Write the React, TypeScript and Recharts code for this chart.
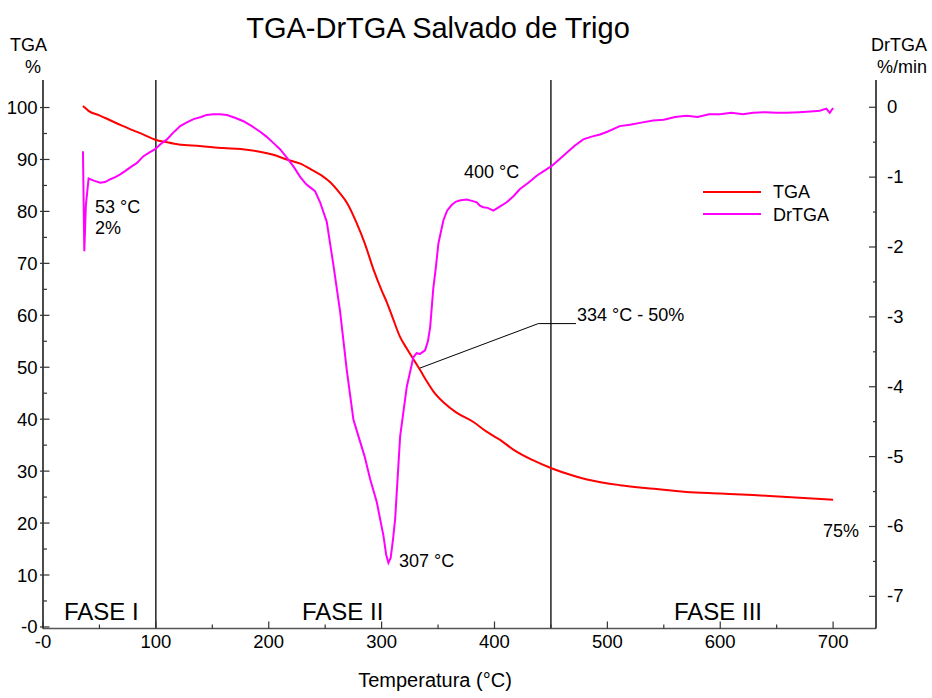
import React from "react";
import { LineChart, Line, XAxis, YAxis, ReferenceLine } from "recharts";

const FONT = '"Liberation Sans", Arial, sans-serif';

// TGA curve (%), left axis
const tgaTemp = [
  35.4, 37, 40, 50, 60, 70, 80, 90, 99.4, 110, 120, 139, 160, 175, 192, 204,
  216, 228, 239, 247, 254, 263, 270, 278, 285, 293, 300, 305, 310, 316, 322,
  328, 334, 340, 346, 355, 366, 381, 393, 405, 417, 434, 451, 470, 482, 511,
  541, 570, 600, 629, 659, 700,
];
const tgaPct = [
  100.3, 100.0, 99.4, 98.5, 97.5, 96.5, 95.6, 94.7, 93.8, 93.3, 92.9, 92.6,
  92.2, 92.0, 91.5, 90.9, 90.0, 89.2, 87.9, 86.9, 85.7, 83.5, 81.4, 77.7, 73.9,
  68.7, 64.8, 62.3, 59.4, 56.0, 53.7, 51.6, 49.5, 47.3, 45.3, 43.2, 41.3, 39.5,
  37.6, 36.0, 34.1, 32.1, 30.5, 29.1, 28.4, 27.3, 26.6, 26.0, 25.7, 25.4, 25.0,
  24.5,
];

// DrTGA curve (%/min), right axis
const drTemp = [
  35.4, 36.6, 38, 40.4, 45, 50.7, 55, 59.6, 64, 68.4, 73, 77.3, 83, 89, 94,
  99.4, 104, 109.8, 115, 121.6, 127, 133.4, 140, 145, 151, 157, 163, 170, 177.6,
  185, 192.4, 198, 204, 210, 216, 222, 228, 233, 237, 241, 245.5, 251.4, 257.3,
  263.2, 269.2, 275, 279.5, 285, 289.8, 295.7, 301.6, 304, 306, 308, 310, 312,
  316.4, 322.3, 328.1, 331, 334, 338.5, 341, 343, 345.8, 348, 350.3, 354.7, 358,
  362, 366, 370, 375.4, 380, 384.3, 387, 390, 394, 399, 405, 410.8, 417, 422.6,
  430, 437.4, 444, 450.7, 457, 464, 471, 478.7, 486, 493.5, 500, 511, 520, 530,
  540.6, 550, 560, 570, 580, 590, 599.7, 610, 620, 629.2, 640, 650, 658.8, 670,
  680, 688.2, 694, 697, 700,
];
const drRate = [
  -0.63, -2.06, -1.4, -1.02, -1.05, -1.08, -1.07, -1.03, -1.0, -0.96, -0.91,
  -0.86, -0.8, -0.7, -0.65, -0.6, -0.53, -0.46, -0.37, -0.27, -0.22, -0.17,
  -0.14, -0.11, -0.1, -0.1, -0.11, -0.15, -0.2, -0.27, -0.35, -0.42, -0.51,
  -0.6, -0.72, -0.85, -1.0, -1.1, -1.15, -1.2, -1.36, -1.64, -2.26, -2.92,
  -3.77, -4.47, -4.71, -5.0, -5.32, -5.65, -6.13, -6.4, -6.52, -6.45, -6.2,
  -5.89, -4.71, -4.0, -3.58, -3.52, -3.53, -3.48, -3.35, -3.15, -2.59, -2.3,
  -1.95, -1.62, -1.48, -1.4, -1.35, -1.33, -1.32, -1.34, -1.36, -1.41, -1.43,
  -1.44, -1.48, -1.42, -1.36, -1.27, -1.17, -1.08, -0.98, -0.91, -0.84, -0.75,
  -0.65, -0.55, -0.46, -0.42, -0.39, -0.35, -0.27, -0.25, -0.22, -0.19, -0.18,
  -0.14, -0.12, -0.14, -0.1, -0.1, -0.08, -0.1, -0.08, -0.07, -0.08, -0.08,
  -0.07, -0.06, -0.05, -0.02, -0.08, -0.01,
];

const xTicks = [0, 50, 100, 150, 200, 250, 300, 350, 400, 450, 500, 550, 600, 650, 700];
const leftTicks = [0, 5, 10, 15, 20, 25, 30, 35, 40, 45, 50, 55, 60, 65, 70, 75, 80, 85, 90, 95, 100];
const rightTicks = [0, -0.5, -1, -1.5, -2, -2.5, -3, -3.5, -4, -4.5, -5, -5.5, -6, -6.5, -7];

const phaseBounds = [100, 450];

const tgaData = tgaTemp.map((t, i) => ({ t, v: tgaPct[i] }));
const drData = drTemp.map((t, i) => ({ t, v: drRate[i] }));

const AX = "#333";

const BottomTick = ({ x, y, payload }: any) => {
  const v = payload.value;
  const major = v % 100 === 0;
  return (
    <g>
      <line x1={x} x2={x} y1={y} y2={y - (major ? 7 : 4)} stroke={AX} strokeWidth={1.2} />
      {major && (
        <text x={x} y={y + 19} textAnchor="middle" fontSize={18.5} fontFamily={FONT} fill="#000">
          {v === 0 ? "-0" : v}
        </text>
      )}
    </g>
  );
};

const LeftTick = ({ x, y, payload }: any) => {
  const v = payload.value;
  const major = v % 10 === 0;
  return (
    <g>
      <line x1={major ? x - 3 : x} x2={x + (major ? 6.5 : 4)} y1={y} y2={y} stroke={AX} strokeWidth={1.2} />
      {major && (
        <text x={x - 5.5} y={y + 6.5} textAnchor="end" fontSize={18.5} fontFamily={FONT} fill="#000">
          {v === 0 ? "-0" : v}
        </text>
      )}
    </g>
  );
};

const RightTick = ({ x, y, payload }: any) => {
  const v = payload.value;
  const major = Number.isInteger(v);
  return (
    <g>
      <line x1={x - (major ? 7 : 3)} x2={x} y1={y} y2={y} stroke={AX} strokeWidth={1.2} />
      {major && (
        <text x={x + 11} y={y + 6} textAnchor="start" fontSize={18.5} fontFamily={FONT} fill="#000">
          {v === 0 ? "0" : v}
        </text>
      )}
    </g>
  );
};

const txt = { fontFamily: FONT, fontSize: 18, fill: "#000" } as const;

export default function App() {
  return (
    <div style={{ position: "absolute", left: 0, top: 0, width: 932, height: 698, background: "#fff" }}>
      <LineChart
        width={932}
        height={698}
        margin={{ top: 80, right: 6, bottom: 29.5, left: 1 }}
      >
        <XAxis
          xAxisId="top"
          orientation="top"
          type="number"
          dataKey="t"
          domain={[0, 738]}
          allowDataOverflow
          height={0}
          tick={false}
          tickLine={false}
          axisLine={{ stroke: "#777", strokeWidth: 1.5 }}
        />
        <XAxis
          type="number"
          dataKey="t"
          domain={[0, 738]}
          allowDataOverflow
          ticks={xTicks}
          interval={0}
          height={40}
          tickSize={0}
          tickMargin={0}
          tickLine={false}
          tick={<BottomTick />}
          axisLine={{ stroke: "#555", strokeWidth: 1.5 }}
        />
        <YAxis
          yAxisId="left"
          type="number"
          domain={[-0.3, 105.3]}
          allowDataOverflow
          ticks={leftTicks}
          interval={0}
          width={42}
          tickSize={0}
          tickMargin={0}
          tickLine={false}
          tick={<LeftTick />}
          axisLine={{ stroke: "#111", strokeWidth: 1.5 }}
        />
        <YAxis
          yAxisId="right"
          orientation="right"
          type="number"
          domain={[-7.46, 0.39]}
          allowDataOverflow
          ticks={rightTicks}
          interval={0}
          width={50}
          tickSize={0}
          tickMargin={0}
          tickLine={false}
          tick={<RightTick />}
          axisLine={{ stroke: "#111", strokeWidth: 1.5 }}
        />
        {phaseBounds.map((b) => (
          <ReferenceLine key={b} x={b} yAxisId="left" stroke="#000" strokeWidth={1.3} />
        ))}
        <ReferenceLine
          yAxisId="left"
          segment={[{ x: 333.5, y: 49.8 }, { x: 438.8, y: 58.4 }]}
          stroke="#000"
          strokeWidth={1}
        />
        <ReferenceLine
          yAxisId="left"
          segment={[{ x: 438.8, y: 58.4 }, { x: 472.2, y: 58.4 }]}
          stroke="#000"
          strokeWidth={1}
        />
        <Line
          yAxisId="left"
          data={tgaData}
          dataKey="v"
          type="monotone"
          stroke="#ff0000"
          strokeWidth={2}
          dot={false}
          isAnimationActive={false}
        />
        <Line
          yAxisId="right"
          data={drData}
          dataKey="v"
          type="linear"
          stroke="#ff00ff"
          strokeWidth={2}
          dot={false}
          isAnimationActive={false}
        />
      </LineChart>
      <svg
        width={932}
        height={698}
        style={{ position: "absolute", left: 0, top: 0, pointerEvents: "none" }}
      >
        <text x={438} y={38} textAnchor="middle" fontFamily={FONT} fontSize={29} fill="#000">
          TGA-DrTGA Salvado de Trigo
        </text>
        <text x={10} y={51} {...txt}>TGA</text>
        <text x={33} y={73} textAnchor="middle" {...txt}>%</text>
        <text x={927} y={51} textAnchor="end" {...txt}>DrTGA</text>
        <text x={927} y={73} textAnchor="end" {...txt}>%/min</text>

        <text x={95} y={213} {...txt}>53 °C</text>
        <text x={95} y={234} {...txt}>2%</text>
        <text x={399} y={567} {...txt}>307 °C</text>
        <text x={464} y={178} {...txt}>400 °C</text>
        <text x={577} y={321} {...txt}>334 °C - 50%</text>
        <text x={823} y={537} {...txt}>75%</text>

        <text x={64} y={620} fontFamily={FONT} fontSize={24} fill="#000">FASE I</text>
        <text x={302} y={620} fontFamily={FONT} fontSize={24} fill="#000">FASE II</text>
        <text x={674} y={620} fontFamily={FONT} fontSize={24} fill="#000">FASE III</text>

        <text x={435} y={687} textAnchor="middle" fontFamily={FONT} fontSize={20} fill="#000">
          Temperatura (°C)
        </text>

        <line x1={703} x2={761} y1={192} y2={192} stroke="#ff0000" strokeWidth={2} />
        <text x={773} y={198} {...txt}>TGA</text>
        <line x1={703} x2={761} y1={214} y2={214} stroke="#ff00ff" strokeWidth={2} />
        <text x={773} y={221} {...txt}>DrTGA</text>
      </svg>
    </div>
  );
}
